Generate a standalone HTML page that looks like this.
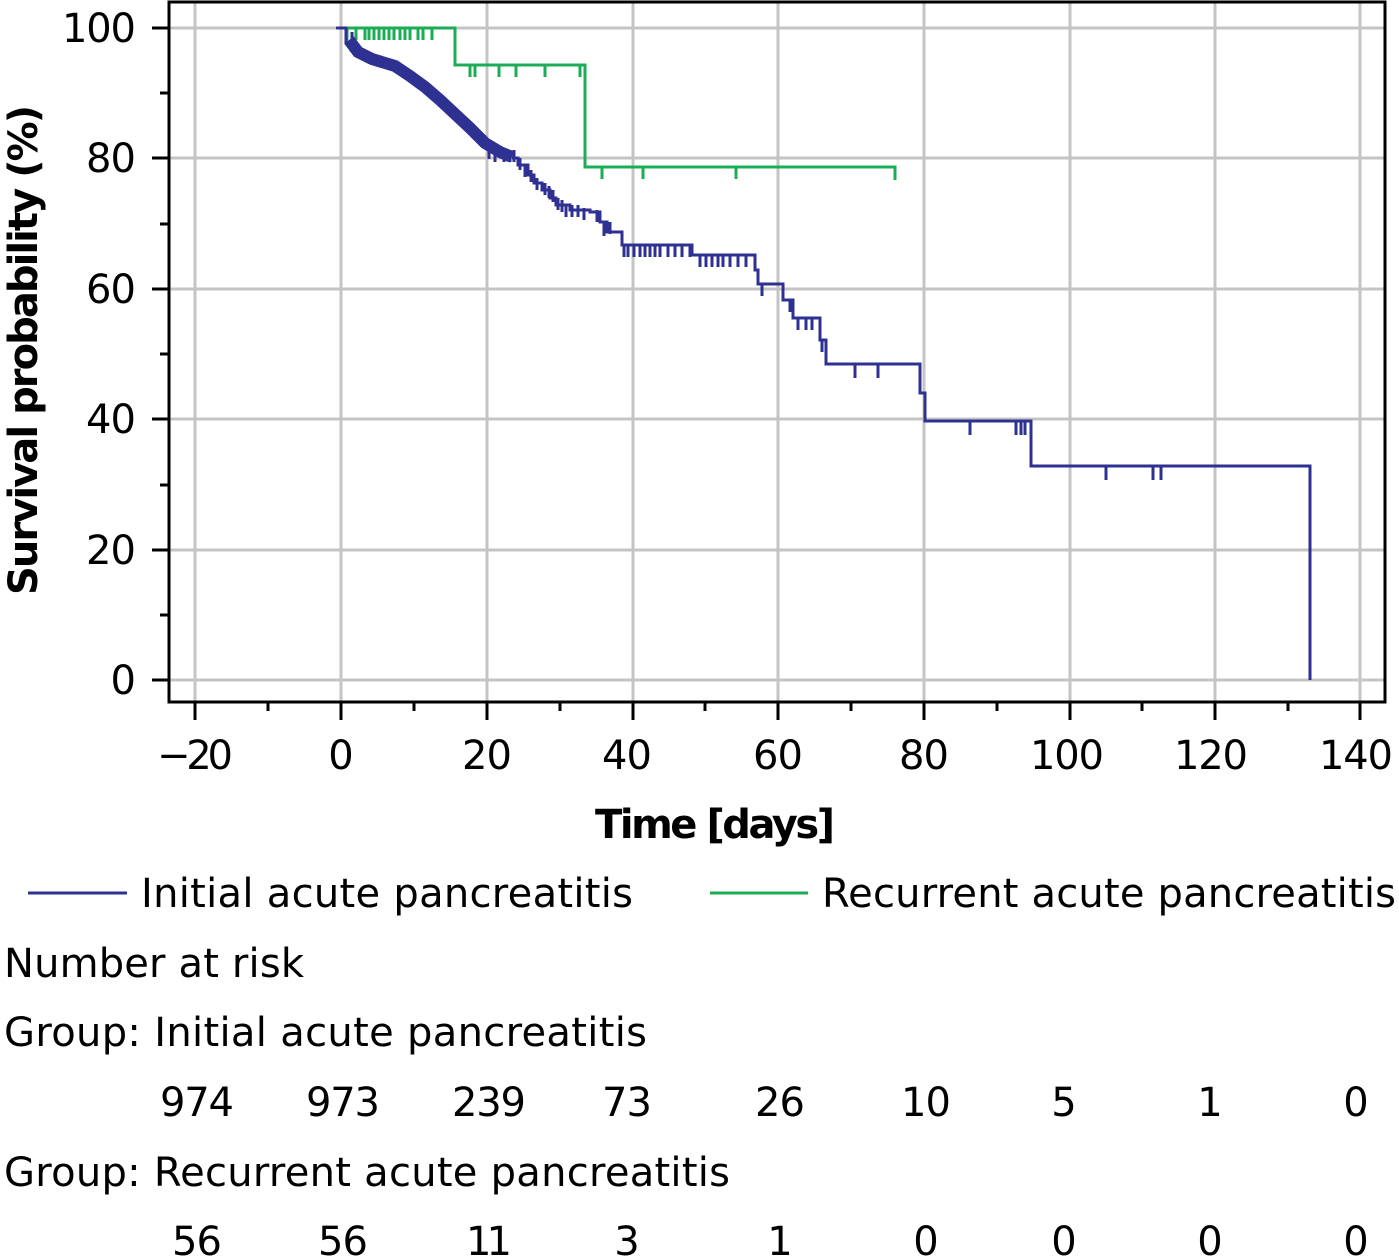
<!DOCTYPE html>
<html><head><style>
body{margin:0;background:#fff;}
svg{display:block;font-family:"DejaVu Sans","Liberation Sans",sans-serif;}
</style></head><body>
<svg width="1399" height="1257" viewBox="0 0 1399 1257" xmlns="http://www.w3.org/2000/svg">
<g stroke="#c4c4c4" stroke-width="3">
<line x1="195" y1="2" x2="195" y2="702"/><line x1="341" y1="2" x2="341" y2="702"/><line x1="487" y1="2" x2="487" y2="702"/><line x1="633" y1="2" x2="633" y2="702"/><line x1="778" y1="2" x2="778" y2="702"/><line x1="924" y1="2" x2="924" y2="702"/><line x1="1070" y1="2" x2="1070" y2="702"/><line x1="1215" y1="2" x2="1215" y2="702"/><line x1="1360" y1="2" x2="1360" y2="702"/>
<line x1="169" y1="28" x2="1385" y2="28"/><line x1="169" y1="158" x2="1385" y2="158"/><line x1="169" y1="289" x2="1385" y2="289"/><line x1="169" y1="419" x2="1385" y2="419"/><line x1="169" y1="550" x2="1385" y2="550"/><line x1="169" y1="680" x2="1385" y2="680"/>
</g>
<rect x="169" y="2" width="1216" height="700" fill="none" stroke="#000" stroke-width="3"/>
<g stroke="#000" stroke-width="3">
<line x1="152" y1="28" x2="169" y2="28"/><line x1="160" y1="93" x2="169" y2="93"/><line x1="152" y1="158" x2="169" y2="158"/><line x1="160" y1="224" x2="169" y2="224"/><line x1="152" y1="289" x2="169" y2="289"/><line x1="160" y1="354" x2="169" y2="354"/><line x1="152" y1="419" x2="169" y2="419"/><line x1="160" y1="485" x2="169" y2="485"/><line x1="152" y1="550" x2="169" y2="550"/><line x1="160" y1="615" x2="169" y2="615"/><line x1="152" y1="680" x2="169" y2="680"/>
<line x1="195" y1="702" x2="195" y2="720"/><line x1="268" y1="702" x2="268" y2="711"/><line x1="341" y1="702" x2="341" y2="720"/><line x1="414" y1="702" x2="414" y2="711"/><line x1="487" y1="702" x2="487" y2="720"/><line x1="560" y1="702" x2="560" y2="711"/><line x1="633" y1="702" x2="633" y2="720"/><line x1="705" y1="702" x2="705" y2="711"/><line x1="778" y1="702" x2="778" y2="720"/><line x1="851" y1="702" x2="851" y2="711"/><line x1="924" y1="702" x2="924" y2="720"/><line x1="997" y1="702" x2="997" y2="711"/><line x1="1070" y1="702" x2="1070" y2="720"/><line x1="1142" y1="702" x2="1142" y2="711"/><line x1="1215" y1="702" x2="1215" y2="720"/><line x1="1288" y1="702" x2="1288" y2="711"/><line x1="1360" y1="702" x2="1360" y2="720"/>
</g>
<g font-size="40" fill="#000" text-anchor="end">
<text x="136" y="42" textLength="74">100</text><text x="136" y="172" textLength="50">80</text><text x="136" y="303" textLength="50">60</text><text x="136" y="433" textLength="50">40</text><text x="136" y="564" textLength="50">20</text><text x="136" y="694">0</text>
</g>
<g font-size="40" fill="#000" text-anchor="middle">
<text x="195" y="769" textLength="76">−20</text><text x="341" y="769">0</text><text x="487" y="769" textLength="50">20</text><text x="627" y="769" textLength="50">40</text><text x="778" y="769" textLength="50">60</text><text x="924" y="769" textLength="50">80</text><text x="1067" y="769" textLength="74">100</text><text x="1211" y="769" textLength="74">120</text><text x="1356" y="769" textLength="74">140</text>
</g>
<text x="715" y="838" font-size="40" font-weight="bold" text-anchor="middle" textLength="240">Time [days]</text>
<text transform="translate(37,350) rotate(-90)" font-size="40" font-weight="bold" text-anchor="middle" textLength="490">Survival probability (%)</text>
<!-- green -->
<g stroke="#1aad55" stroke-width="3" fill="none">
<polyline points="336,28 455,28 455,65 585,65 585,167 895,167 895,180"/>
<path d="M347,28v12M356,28v12M365,28v12M369,28v12M374,28v12M379,28v12M384,28v12M389,28v12M394,28v12M400,28v12M405,28v12M410,28v12M418,28v12M423,28v12M432,28v12M470,65v12M475,65v12M499,65v12M516,65v12M545,65v12M580,65v12M602,167v12M643,167v12M736,167v12"/>
</g>
<!-- blue -->
<g stroke="#2e3192" fill="none">
<polyline stroke-width="12" points="349,40 358,52 372,59 395,66 410,76 425,87 440,100 455,114 470,128 485,143 500,152 512,157"/>
<path stroke-width="3" d="M336,28h10v14h5v8h5M346,28v14M352,32v16M489,145v14M495,150v12M504,150v12M510,150v12M514,150v12"/>
<polyline stroke-width="3" points="512,158 518,158 518,165 528,165 528,175 534,175 534,183 542,183 542,190 550,190 550,198 556,198 556,205 570,205 570,210 590,210 590,212 600,212 600,222 607,222 607,232 622,232 622,245 692,245 692,255 755,255 755,270 758,270 758,284 783,284 783,300 793,300 793,318 820,318 820,340 826,340 826,364 920,364 920,393 925,393 925,421 1031,421 1031,466 1310,466 1310,680"/>
<path stroke-width="3" d="M520,158v12M525,165v12M531,170v12M537,178v12M545,183v12M549,186v12M553,190v12M558,198v12M562,200v12M566,205v12M572,205v12M578,205v12M584,208v12M597,210v12M604,222v14M610,222v12M624,245v12M628,245v12M634,245v12M640,245v12M645,245v12M650,245v12M655,245v12M660,245v12M668,245v12M675,245v12M682,245v12M690,245v12M700,255v12M706,255v12M712,255v12M718,255v12M723,255v12M730,255v12M738,255v12M746,255v12M762,284v12M790,300v12M798,318v12M806,318v12M812,318v12M822,340v12M855,364v14M878,364v14M970,421v14M1016,421v14M1021,421v14M1025,421v14M1106,466v14M1153,466v14M1161,466v14"/>
</g>
<!-- legend -->
<line x1="28" y1="893" x2="127" y2="893" stroke="#2e3192" stroke-width="3"/>
<line x1="710" y1="893" x2="808" y2="893" stroke="#1aad55" stroke-width="3"/>
<g font-size="40" fill="#000">
<text x="141" y="907" textLength="492">Initial acute pancreatitis</text>
<text x="822" y="907" textLength="574">Recurrent acute pancreatitis</text>
<text x="4" y="977" textLength="300">Number at risk</text>
<text x="4" y="1046" textLength="643">Group: Initial acute pancreatitis</text>
<text x="4" y="1186" textLength="726">Group: Recurrent acute pancreatitis</text>
</g>
<g font-size="40" fill="#000" text-anchor="middle">
<text x="197" y="1116" textLength="74">974</text><text x="343" y="1116" textLength="74">973</text><text x="489" y="1116" textLength="74">239</text><text x="627" y="1116" textLength="50">73</text><text x="780" y="1116" textLength="50">26</text><text x="926" y="1116" textLength="50">10</text><text x="1064" y="1116">5</text><text x="1210" y="1116">1</text><text x="1356" y="1116">0</text>
<text x="197" y="1255" textLength="50">56</text><text x="343" y="1255" textLength="50">56</text><text x="489" y="1255" textLength="46">11</text><text x="627" y="1255">3</text><text x="780" y="1255">1</text><text x="926" y="1255">0</text><text x="1064" y="1255">0</text><text x="1210" y="1255">0</text><text x="1356" y="1255">0</text>
</g>
</svg>
</body></html>
